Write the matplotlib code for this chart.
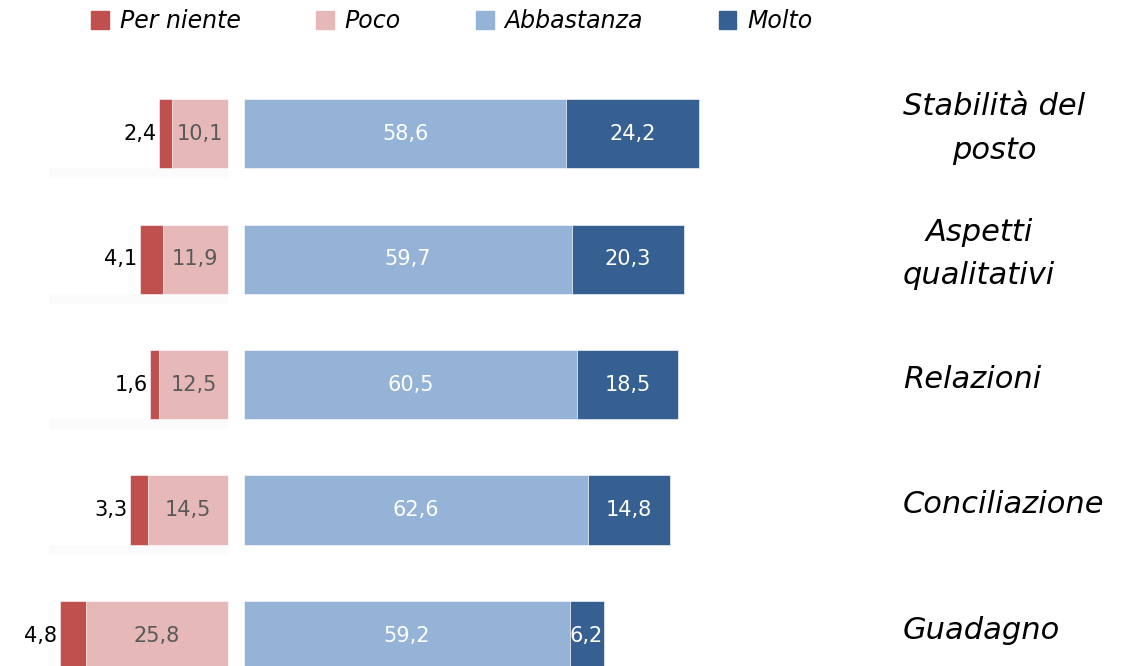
import numpy as np
import matplotlib.pyplot as plt
from matplotlib.patches import Patch

# Soddisfazione per aspetti del lavoro (%)
categorie = ['Stabilità del\nposto', 'Aspetti\nqualitativi', 'Relazioni', 'Conciliazione', 'Guadagno']
per_niente = [2.4, 4.1, 1.6, 3.3, 4.8]
poco = [10.1, 11.9, 12.5, 14.5, 25.8]
abbastanza = [58.6, 59.7, 60.5, 62.6, 59.2]
molto = [24.2, 20.3, 18.5, 14.8, 6.2]
legenda = ['Per niente', 'Poco', 'Abbastanza', 'Molto']

col_pn = '#C0504D'
col_po = '#E6B9B8'
col_ab = '#95B3D7'
col_mo = '#376092'

script_font = dict(family='DejaVu Sans', style='italic')
num_font = dict(family='DejaVu Sans')

def fmt(v):
    return f'{v:.1f}'.replace('.', ',')

gap = 2.9   # spazio tra lato negativo e positivo
h = 0.55
y = np.arange(len(categorie))

fig = plt.figure(figsize=(11.3, 6.66), dpi=100)
ax = fig.add_axes([0, 0, 1, 1])
ax.set_xlim(-41.45, 164.0)
ax.set_ylim(4.243, -1.064)
ax.axis('off')

pn = np.array(per_niente)
po = np.array(poco)
ab = np.array(abbastanza)
mo = np.array(molto)

# ombra leggera sotto il lato sinistro
ax.barh(y + h / 2 + 0.04, [-32.5] * len(y), height=0.08, color='#fbfbfb', zorder=0)

ax.barh(y, -po, height=h, color=col_po, edgecolor='white', linewidth=0.4)
ax.barh(y, -pn, left=-po, height=h, color=col_pn, edgecolor='white', linewidth=0.4)
ax.barh(y, ab, left=gap, height=h, color=col_ab, edgecolor='white', linewidth=0.4)
ax.barh(y, mo, left=gap + ab, height=h, color=col_mo, edgecolor='white', linewidth=0.4)

for i in range(len(y)):
    ax.text(-po[i] - pn[i] - 0.5, y[i], fmt(pn[i]), ha='right', va='center',
            fontsize=15, color='black', **num_font)
    ax.text(-po[i] / 2, y[i], fmt(po[i]), ha='center', va='center',
            fontsize=15, color='#595959', **num_font)
    ax.text(gap + ab[i] / 2, y[i], fmt(ab[i]), ha='center', va='center',
            fontsize=15, color='white', **num_font)
    ax.text(gap + ab[i] + mo[i] / 2, y[i], fmt(mo[i]), ha='center', va='center',
            fontsize=15, color='white', **num_font)
    ax.text(122.7, y[i] - 0.04, categorie[i], ha='left', va='center',
            multialignment='center', fontsize=22, linespacing=1.65, **script_font)

handles = [Patch(color=c) for c in [col_pn, col_po, col_ab, col_mo]]
ax.legend(handles, legenda, ncol=4, loc='upper left', bbox_to_anchor=(0.062, 1.018),
          frameon=False, handlelength=0.75, handleheight=0.75, handletextpad=0.45,
          columnspacing=3.2, prop=dict(size=17, **script_font))

fig.savefig('out.png', dpi=100)
